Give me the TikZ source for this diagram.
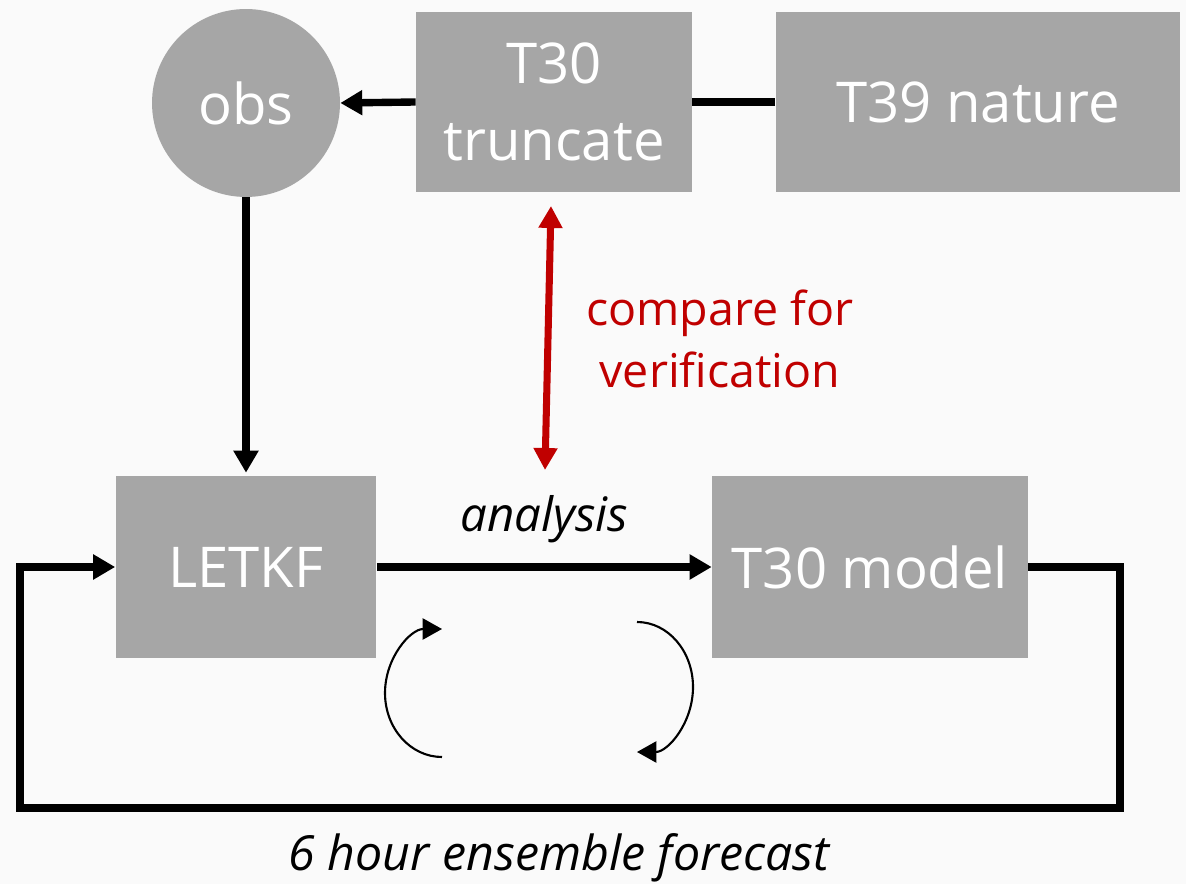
\documentclass[tikz,border=0pt]{standalone}
\usepackage{fontspec}
\setmainfont{Open Sans}
\usetikzlibrary{arrows.meta,positioning}
\definecolor{boxgray}{HTML}{A6A6A6}
\definecolor{bggray}{HTML}{FAFAFA}
\definecolor{verred}{HTML}{C00000}
\tikzset{
  graybox/.style={fill=boxgray,text=white,align=center,inner sep=0pt,
    font=\fontsize{32}{44}\selectfont},
  flow/.style={line width=4.2pt,-{Triangle[length=12.5pt,width=13.6pt]}},
  cycle/.style={line width=1.2pt,-{Triangle[length=11pt,width=12pt]}},
}
\begin{document}
\begin{tikzpicture}[x=0.02cm,y=-0.02cm]
    % page and background
    \fill[bggray] (0,0) rectangle (1186,884);
    \useasboundingbox (0,0) rectangle (1186,884);
    % nodes
    \node[graybox,circle,minimum size=3.76cm] (obs) at (246,103) {obs};
    \node[graybox,minimum width=5.52cm,minimum height=3.6cm] (trunc) at (554,102) {T30\\truncate};
    \node[graybox,minimum width=8.1cm,minimum height=3.6cm] (nature) at (978,102) {T39 nature};
    \node[graybox,minimum width=5.22cm,minimum height=3.64cm] (letkf) at (246,567) {LETKF};
    \node[graybox,minimum width=6.32cm,minimum height=3.64cm] (model) at (870,567) {T30 model};
    % connectors
    \draw[line width=4.2pt] (nature.west) -- (trunc.east);
    \draw[flow] (trunc.west) -- (obs.east);
    \draw[flow] (obs.south) -- ([yshift=0.06cm]letkf.north);
    \draw[flow] (letkf.east) -- node[above=8pt,text=black,font=\fontsize{27}{32}\selectfont\itshape] (ana) {analysis} (model.west);
    \coordinate (rtop) at (551,206);
    \coordinate (rbot) at (545,470);
    \draw[line width=4pt,verred,{Triangle[length=12.5pt,width=13pt]}-{Triangle[length=12.5pt,width=13pt]}] (rtop) -- (rbot);
    \node[text=verred,align=center,font=\fontsize{26.5}{35}\selectfont] (cmp) at (720,339) {compare for\\verification};
    % 6 hour loop
    \draw[line width=4.5pt,-{Triangle[length=12.5pt,width=13.6pt]}] (model.east) -| (1120,808) -| (20,567) -- (letkf.west);
    \node[font=\fontsize{27.5}{32}\selectfont\itshape] (fc) at (559,858) {6 hour ensemble forecast};
    % cycle arrows
    \draw[cycle] (442,757) arc[start angle=270,end angle=90,x radius=57,y radius=-64] ;
    \draw[cycle] (637,622) arc[start angle=90,end angle=-90,x radius=56,y radius=-65];
\end{tikzpicture}
\end{document}
